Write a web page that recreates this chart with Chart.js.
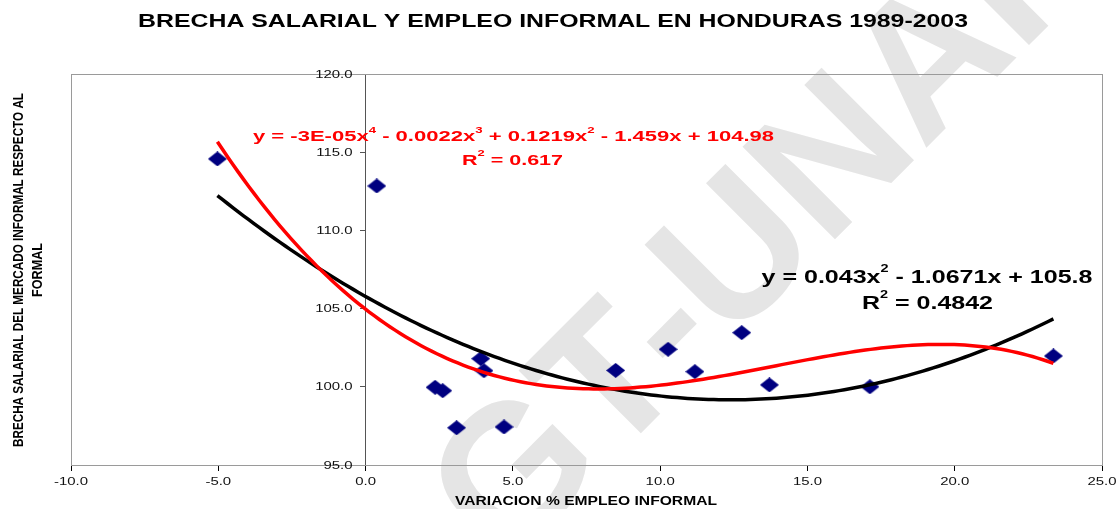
<!DOCTYPE html>
<html>
<head>
<meta charset="utf-8">
<script src="https://cdn.jsdelivr.net/npm/chart.js@4/dist/chart.umd.min.js"></script>
<style>
  html, body { margin: 0; padding: 0; background: #fff; }
  canvas { display: block; }
</style>
</head>
<body>
<canvas id="brechaChart" width="1119" height="509"></canvas>
<script>
// variacion % empleo informal vs brecha salarial, 1989-2003
const variacionEmpleo = [-5.03, 0.38, 2.36, 2.62, 3.09, 3.91, 4.02, 4.70, 8.49, 10.27, 11.18, 12.77, 13.71, 17.12, 23.35];
const brechaSalarial = [114.57, 112.84, 99.97, 99.75, 97.38, 101.80, 101.03, 97.43, 101.05, 102.40, 100.97, 103.46, 100.12, 100.00, 101.97];

const xTicks = [-10, -5, 0, 5, 10, 15, 20, 25];
const yTicks = [95, 100, 105, 110, 115, 120];

const titulo = 'BRECHA SALARIAL Y EMPLEO INFORMAL EN HONDURAS 1989-2003';
const tituloX = 'VARIACION % EMPLEO INFORMAL';
const tituloY = ['BRECHA SALARIAL DEL MERCADO INFORMAL RESPECTO AL', 'FORMAL'];

// etiquetas de las lineas de tendencia ([texto, superindice])
const ecuacionPoli4 = [['y = -3E-05x', false], ['4', true], [' - 0.0022x', false], ['3', true], [' + 0.1219x', false], ['2', true], [' - 1.459x + 104.98', false]];
const r2Poli4 = [['R', false], ['2', true], [' = 0.617', false]];
const ecuacionPoli2 = [['y = 0.043x', false], ['2', true], [' - 1.0671x + 105.8', false]];
const r2Poli2 = [['R', false], ['2', true], [' = 0.4842', false]];

const FONT = '"Liberation Sans", Arial, sans-serif';

// minimos cuadrados (x escalado /10 para estabilidad)
function polyFit(xs, ys, degree) {
    const n = degree + 1;
    const A = Array.from({ length: n }, () => new Array(n + 1).fill(0));
    xs.forEach((x, k) => {
        const t = x / 10;
        for (let i = 0; i < n; i++) {
            for (let j = 0; j < n; j++) A[i][j] += Math.pow(t, i + j);
            A[i][n] += Math.pow(t, i) * ys[k];
        }
    });
    for (let c = 0; c < n; c++) {
        let p = c;
        for (let r = c + 1; r < n; r++) if (Math.abs(A[r][c]) > Math.abs(A[p][c])) p = r;
        [A[c], A[p]] = [A[p], A[c]];
        for (let r = 0; r < n; r++) {
            if (r === c) continue;
            const f = A[r][c] / A[c][c];
            for (let k = c; k <= n; k++) A[r][k] -= f * A[c][k];
        }
    }
    return A.map((row, i) => row[n] / row[i]);
}

function trendPoints(coef) {
    const lo = Math.min(...variacionEmpleo);
    const hi = Math.max(...variacionEmpleo);
    const pts = [];
    for (let i = 0; i <= 160; i++) {
        const x = lo + (hi - lo) * i / 160;
        const t = x / 10;
        const y = coef.reduce((s, c, k) => s + c * Math.pow(t, k), 0);
        pts.push({ x: x, y: y });
    }
    return pts;
}

function makeDiamond(w, h, color) {
    const c = document.createElement('canvas');
    c.width = w;
    c.height = h;
    const g = c.getContext('2d');
    g.fillStyle = color;
    g.beginPath();
    g.moveTo(w / 2, 0);
    g.lineTo(w, h / 2);
    g.lineTo(w / 2, h);
    g.lineTo(0, h / 2);
    g.closePath();
    g.fill();
    return c;
}

// texto con escala horizontal
function drawStretched(ctx, text, x, y, font, color, align, sx) {
    ctx.save();
    ctx.font = font;
    ctx.fillStyle = color;
    ctx.textBaseline = 'middle';
    ctx.textAlign = align;
    ctx.translate(x, y);
    ctx.scale(sx, 1);
    ctx.fillText(text, 0, 0);
    ctx.restore();
}

// texto con superindices ajustado a un ancho
function drawEquation(ctx, segs, cx, cy, size, color, targetW) {
    const base = `bold ${size}px ${FONT}`;
    const sup = `bold ${Math.round(size * 0.6)}px ${FONT}`;
    ctx.save();
    let w = 0;
    segs.forEach(([t, s]) => { ctx.font = s ? sup : base; w += ctx.measureText(t).width; });
    ctx.translate(cx - targetW / 2, cy);
    ctx.scale(targetW / w, 1);
    ctx.fillStyle = color;
    ctx.textBaseline = 'middle';
    ctx.textAlign = 'left';
    let x = 0;
    segs.forEach(([t, s]) => {
        ctx.font = s ? sup : base;
        ctx.fillText(t, x, s ? -size * 0.45 : 0);
        x += ctx.measureText(t).width;
    });
    ctx.restore();
}

function drawFit(ctx, text, cx, cy, size, targetW, rot, sAcross) {
    ctx.save();
    ctx.font = `bold ${size}px ${FONT}`;
    const w = ctx.measureText(text).width;
    ctx.translate(cx, cy);
    ctx.rotate(rot);
    ctx.scale(targetW / w, sAcross);
    ctx.fillStyle = '#000';
    ctx.textBaseline = 'middle';
    ctx.textAlign = 'center';
    ctx.fillText(text, 0, 0);
    ctx.restore();
}

const marcaAgua = {
    id: 'marcaAgua',
    beforeDraw(chart) {
        const ctx = chart.ctx;
        ctx.save();
        ctx.translate(468, 532);
        ctx.rotate(-Math.PI / 4);
        ctx.font = `bold 190px ${FONT}`;
        ctx.fillStyle = '#e5e5e5';
        ctx.textBaseline = 'middle';
        ctx.textAlign = 'left';
        ctx.fillText('GT-UNAH', 0, 0);
        ctx.restore();
    },
    beforeDatasetsDraw(chart) {
        const { ctx, chartArea: a } = chart;
        ctx.save();
        ctx.strokeStyle = '#9a9a9a';
        ctx.lineWidth = 1;
        ctx.strokeRect(a.left + 0.5, a.top + 0.5, a.right - a.left, a.bottom - a.top);
        ctx.restore();
    }
};

const rotulos = {
    id: 'rotulos',
    afterDraw(chart) {
        const ctx = chart.ctx;
        const xs = chart.scales.x;
        const ys = chart.scales.y;
        const tickFont = `11.5px ${FONT}`;
        const x0 = xs.getPixelForValue(0);

        yTicks.forEach(v => {
            drawStretched(ctx, v.toFixed(1), x0 - 13, ys.getPixelForValue(v) + 0.5, tickFont, '#111', 'right', 1.3);
        });
        xTicks.forEach(v => {
            drawStretched(ctx, v.toFixed(1), xs.getPixelForValue(v), ys.getPixelForValue(95) + 17, tickFont, '#111', 'center', 1.3);
        });

        drawFit(ctx, titulo, 553, 22, 18, 830, 0, 1);
        drawFit(ctx, tituloX, 586, 501, 13, 262, 0, 1);
        drawFit(ctx, tituloY[0], 19, 270, 11, 354, -Math.PI / 2, 1.25);
        drawFit(ctx, tituloY[1], 38, 270, 11, 54, -Math.PI / 2, 1.25);

        drawEquation(ctx, ecuacionPoli4, 513.5, 137, 15, '#ff0000', 521);
        drawEquation(ctx, r2Poli4, 512.5, 160.5, 15, '#ff0000', 101);
        drawEquation(ctx, ecuacionPoli2, 927, 277.5, 19, '#000', 331);
        drawEquation(ctx, r2Poli2, 927.5, 304, 19, '#000', 131);
    }
};

const puntos = variacionEmpleo.map((x, i) => ({ x: x, y: brechaSalarial[i] }));
const poli2 = trendPoints(polyFit(variacionEmpleo, brechaSalarial, 2));
const poli4 = trendPoints(polyFit(variacionEmpleo, brechaSalarial, 4));

new Chart(document.getElementById('brechaChart'), {
    type: 'scatter',
    data: {
        datasets: [
            {
                label: 'Polinómica (4)',
                data: poli4,
                showLine: true,
                borderColor: '#ff0000',
                borderWidth: 3.5,
                pointRadius: 0,
                tension: 0,
                order: 0
            },
            {
                label: 'Polinómica (2)',
                data: poli2,
                showLine: true,
                borderColor: '#000000',
                borderWidth: 3.5,
                pointRadius: 0,
                tension: 0,
                order: 1
            },
            {
                label: 'Brecha salarial',
                data: puntos,
                pointStyle: makeDiamond(19, 15, '#000080'),
                pointRadius: 9,
                order: 2
            }
        ]
    },
    options: {
        responsive: false,
        animation: false,
        layout: { padding: { left: 71, right: 17, top: 74, bottom: 44 } },
        plugins: {
            legend: { display: false },
            tooltip: { enabled: false }
        },
        scales: {
            x: {
                type: 'linear',
                min: -10,
                max: 25,
                position: { y: 95 },
                afterBuildTicks: scale => { scale.ticks = xTicks.map(v => ({ value: v })); },
                ticks: { display: false },
                grid: { drawOnChartArea: false, drawTicks: true, tickLength: 5, color: '#000' },
                border: { color: '#000', width: 1 }
            },
            y: {
                type: 'linear',
                min: 95,
                max: 120,
                position: { x: 0 },
                afterBuildTicks: scale => { scale.ticks = yTicks.map(v => ({ value: v })); },
                ticks: { display: false },
                grid: { drawOnChartArea: false, drawTicks: true, tickLength: 5, color: '#555' },
                border: { color: '#555', width: 1 }
            }
        }
    },
    plugins: [marcaAgua, rotulos]
});
</script>
</body>
</html>
